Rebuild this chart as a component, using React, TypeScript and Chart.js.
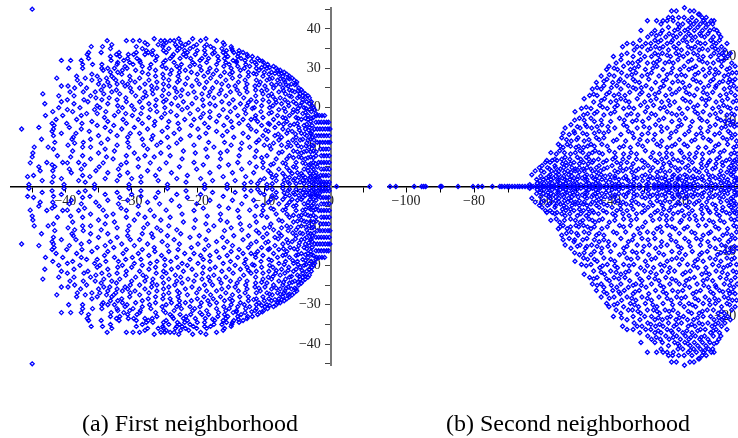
import React, { useEffect, useRef } from "react";
import { Chart, registerables } from "chart.js";

Chart.register(...registerables);

// Values are read off the picture, one row per y: [y, x, x, ...].
// The reference is mirror-symmetric about the real axis (conjugate pairs), so only the upper half is listed.
const firstUpper: number[][] = [
  [45, -45],
  [37.5, -26.6, -22.9, -20.8, -18.8],
  [37, -33.7, -30.8, -29.8, -28.8, -25.6, -25, -24.2, -23.6, -19.6, -17.2],
  [36.5, -28, -24.8, -22.6, -21.4, -16.2],
  [36, -33, -27.6, -26, -25.2, -23.4, -21.9, -20.2, -18.7, -16],
  [35.5, -36.1, -34.4, -29.3, -25.3, -23.2, -22.4, -20.7, -19, -18.1, -15],
  [35, -33.2, -28.4, -24.4, -22.8, -21.2, -17.6, -16.4, -14.9],
  [34.5, -27.8, -26.8, -25.2, -23.1, -22, -20.1, -19, -15.7, -14.8, -13.8],
  [34, -36.5, -34.6, -31.9, -29.3, -27.5, -24.8, -21.6, -17.5, -16.2, -14.6, -13.2],
  [33.5, -36.7, -32.3, -30.5, -29.7, -28, -26.9, -23.7, -22.2, -20.4, -18.9, -15.8, -12.6],
  [33, -33.2, -31.8, -26.2, -23.9, -21.8, -17, -15.5, -14, -12.5, -11.8],
  [32.5, -36.5, -30.6, -29.2, -24.2, -22.7, -21.1, -19.4, -18.4, -16, -13.5, -11],
  [32, -40.6, -39.2, -37.6, -33.1, -31.2, -28.8, -26.4, -24.9, -19.7, -16.9, -14.7, -12.9, -10.7],
  [31.5, -32.1, -30.3, -28.7, -25.2, -23.6, -20.8, -18.7, -15.8, -14.2, -11.4, -10.1],
  [31, -37.4, -35.9, -34.5, -32.2, -29.8, -27.1, -22.5, -20.5, -17.2, -15.3, -12.8, -11.2, -9.5],
  [30.5, -31, -28.4, -25.4, -23.2, -21.2, -19.7, -16.1, -14, -12.2, -9.9, -8.6],
  [30, -39.5, -37.4, -34.5, -33.6, -32.6, -30.7, -27.3, -24.8, -22.8, -18.2, -15, -13, -11.2, -9.6, -8.2],
  [29.5, -34.3, -31.4, -29.4, -26.4, -24, -21.9, -19.5, -17.2, -13.6, -10.8, -8, -7.6],
  [29, -33.2, -32.1, -28.4, -22.8, -21, -18.5, -16, -14.8, -12.4, -10, -8.9, -7],
  [28.5, -36, -31.5, -27.5, -25.3, -24.2, -20.1, -17.7, -15.2, -11.2, -9.3, -7.8, -6.6],
  [28, -38.3, -35.2, -33, -30.3, -26.4, -23, -19.1, -16.6, -13.7, -12.4, -10.2, -7.2, -6.2],
  [27.5, -41.3, -37, -33.8, -32.7, -28.8, -25.2, -21.6, -18.1, -14.8, -8.8, -6.4, -5.8],
  [27, -38.2, -36, -34.8, -32.4, -30.2, -27.4, -24.4, -22.8, -20.2, -15.8, -12.9, -11.2, -9.6, -8, -7, -5.5],
  [26.5, -33.6, -31.4, -29.5, -26.2, -23.1, -18.7, -17.2, -13.9, -10.6, -6.9, -5.1],
  [26, -37.7, -35, -32.2, -30.6, -28, -25.2, -21.9, -19.8, -16.4, -12.6, -8.9, -7.6, -5.9, -5.2],
  [25.5, -40.6, -39.6, -34.2, -33.3, -31, -27, -24.4, -20.9, -15.4, -14.4, -11.4, -9.9, -6.4],
  [25, -38.6, -36.8, -30.2, -28.8, -26.2, -23.5, -19, -17.8, -12.8, -8.6, -7.2, -4.8],
  [24.5, -34.6, -32.3, -26.9, -25.2, -22.4, -16.5, -14.1, -11.3, -9.6, -6.2, -4.4],
  [24, -39.3, -37.3, -35.5, -33, -30, -28, -23.2, -20.6, -18.2, -15.1, -12.6, -7.8, -5.4, -4.2],
  [23.5, -43.4, -34.2, -31.8, -26.8, -24.4, -21.5, -19.4, -16.8, -13.7, -10.2, -8.9, -6.8, -4.6, -3.8],
  [23, -41, -38.7, -36.2, -29.4, -27.8, -25.4, -22.6, -18.4, -15.8, -11.3, -9.4, -6.2, -4.2, -3.4],
  [22.5, -35.4, -33.4, -30.9, -28.3, -23.4, -20.3, -17.6, -13.1, -7.6, -5, -3.2],
  [22, -39.7, -37.2, -34.5, -32.2, -26.3, -24.8, -19.3, -14.7, -12, -10.2, -8.3, -6.9, -4.2],
  [21.5, -40.6, -36.6, -30.8, -28.8, -25.2, -22.2, -16.4, -11.2, -9.3, -5.6, -3.6, -2.9],
  [21, -43.1, -38.7, -33.6, -27.4, -24, -20.9, -18.2, -15.3, -13.6, -7.4, -5.2, -3.2],
  [20.5, -35.2, -32.1, -30, -26.4, -23, -19.2, -17.4, -12.6, -10.4, -8.7, -6.3, -4.6, -2.8],
  [20, -41, -37.8, -34.8, -31.4, -28.4, -25, -21.6, -14.4, -11.5, -9.2, -4, -2.6],
  [19.5, -39.7, -35.6, -29.6, -27.2, -22.4, -20, -16.2, -13, -7.8, -5.6, -3.2, -2.4],
  [19, -41.9, -38.9, -33.9, -32, -26.2, -24.1, -18.2, -15.1, -10.5, -6.8, -5, -2.9],
  [18.5, -36.8, -35.2, -30.9, -28.6, -25, -21.2, -19.2, -12.8, -9.3, -4.2, -2.2],
  [18, -43, -40.4, -37.6, -32.6, -29.9, -23.2, -16.8, -14, -11.3, -8, -6.2, -3.4, -2.1, -1.7, -1.3, -0.9],
  [17.5, -34.1, -27.4, -25.5, -19.6, -18.2, -15.6, -10.2, -7.2, -5.2, -2.6],
  [17, -41.4, -38.3, -31.3, -29, -22, -20.6, -13.2, -12, -8.6, -4.4, -3.4],
  [16.5, -36, -33.6, -26.5, -24.4, -17.2, -15, -11, -6.6, -3],
  [16.3, -2.2, -1.8, -1.4, -1, -0.6, -0.3],
  [16, -42, -39.8, -37.5, -30.8, -28.4, -23, -19, -13.8, -9.4, -7.8, -5],
  [15.5, -41.7, -35.2, -32.7, -26.6, -21, -16.1, -12.4, -10.4, -6.1, -4, -2.8],
  [15, -44, -39.4, -34, -29.6, -24.6, -18.4, -14.8, -8.4, -4.8, -3.2],
  [14.6, -46.6, -41.8, -37.6, -31.5, -27.6, -22.8, -20, -12, -7.2, -3.8, -2.4, -2, -1.6, -1.2, -0.8, -0.4, -0.1],
  [14, -42, -36.4, -33.2, -25.4, -17.2, -15.6, -11.2, -9.4, -5.8, -2.8],
  [13.5, -40.6, -38.4, -30.2, -28.8, -23.6, -18.8, -13.2, -6.6, -4.4, -3],
  [12.9, -41.8, -35, -32.2, -26.8, -21.2, -16.3, -10.2, -8.4, -3.6, -2.2, -1.8, -1.4, -1, -0.6, -0.2],
  [12.5, -38.8, -30.6, -24.6, -19.8, -14.6, -12.4, -7.4, -5.2, -2.8],
  [12, -43.6, -39, -36.2, -33.6, -28.4, -27, -22.6, -9.6, -4.2, -3],
  [11.2, -41.6, -37.3, -30.6, -25.6, -18.4, -16, -11.2, -6.4, -2, -1.6, -1.2, -0.8, -0.4, -0.1],
  [11, -38.6, -34.6, -23.2, -13.4, -8.6, -5.2, -3.6],
  [10.5, -39.6, -32.2, -28.2, -26.2, -20.6, -15, -10, -7.4, -2.8],
  [10, -44.7, -42.6, -37.4, -36.2, -30.4, -24.4, -17.6, -12.2, -6.6, -4.4, -3.2],
  [9.5, -41.8, -34, -27.6, -18.8, -13.6, -9, -1.5, -1.1, -0.7, -0.3],
  [9, -38.9, -32.6, -22.2, -15.6, -11.2, -5.6, -3.6, -2.6],
  [8.5, -44.9, -35, -29.6, -25.6, -20.4, -16.6, -7.8, -4.4],
  [7.8, -41.2, -37.4, -30.8, -28, -24.2, -13.8, -9.6, -6.2, -2.2, -1.4, -1, -0.6, -0.2],
  [7.5, -45, -39.2, -33.8, -26.6, -18.6, -11.4, -4.8, -3],
  [7, -36.2, -32.8, -29, -22.4, -16.6, -8.2, -6.6, -3.8],
  [6.1, -42.8, -40.4, -38, -30.8, -20.6, -14, -10.2, -5.2, -2.6, -1.8, -1.4, -1, -0.6, -0.2],
  [6, -45.3, -39.7, -34.3, -27.2, -24.8, -12.2, -7.2, -4.2],
  [5.5, -42, -37.1, -31.6, -19.2, -15.4, -9, -3.2],
  [5, -44, -41.6, -34.9, -29, -22.8, -16.8, -11.2, -5.6, -2],
  [4.4, -39.4, -37.6, -32, -25.8, -20.2, -13.4, -7.8, -4, -2.6, -1.4, -1, -0.6, -0.2],
  [4, -43.8, -41.9, -35.4, -27.6, -9.4, -6.2, -3.4],
  [3.5, -39.1, -33.6, -30.6, -24, -18.2, -14.8, -11.6, -5, -2.2],
  [2.8, -44.8, -37.4, -31.8, -26.4, -21.6, -8.2, -4.2, -1.5, -1.1, -0.7, -0.3],
  [2.5, -45.7, -41.8, -36.3, -28.6, -16.2, -12.8, -6.8, -3, -1.9],
  [2, -40.6, -34, -30, -23.2, -19.6, -10, -5.4, -2.4],
  [1.5, -43.5, -38, -32.2, -26, -17.8, -14.4, -8.2, -3.6],
  [1.1, -42, -37, -28.6, -21.8, -12, -6.4, -4.6, -2.8, -1.8, -1.4, -1, -0.6, -0.2],
  [0.5, -45.5, -40.2, -35.6, -30.4, -24.6, -19, -15.6, -9.6, -7.2, -3.2, -2.2, -1.2, -0.3],
  [0, 0.9, 5.9],
];

const firstEdgeExtra: number[][] = [
  [33.7, -17.8, -13.9], [31.8, -14.2, -11.9, -10.3], [30.2, -10.4, -9.2], [28.7, -11.6, -8.4, -7.4],
  [27.3, -9.2, -7.6, -6.2], [25.8, -10.8, -8.2, -6.7, -5.4], [24.3, -10.4, -7.1, -5.8, -4.9], [22.8, -8.7, -5.9, -4.7, -3.8],
  [21.3, -12.4, -8.2, -6.4, -4.3], [19.8, -11.8, -7, -4.9, -3.7], [18.8, -8.9, -5.7, -3.8], [17.3, -11.4, -6.8, -4.9, -3.8, -2.9],
  [15.8, -9.2, -7.1, -5.5, -3.6], [14.3, -9.8, -6.4, -4.7, -3.3], [13.3, -7.9, -5.3, -3.9, -2.9], [11.8, -10.8, -7.8, -5.7, -4.6, -3.4, -2.5],
  [10.3, -9.2, -6, -4.9, -3.7, -2.6], [8.8, -7.3, -5, -4, -3, -2.2], [7.3, -10.4, -5.6, -4.4, -3.4, -2.6], [5.8, -8.6, -6.8, -3.8, -3, -2.3],
  [4.8, -10.2, -6.6, -5.2, -3.4, -2.8], [3.3, -9, -7.2, -5.8, -4.4, -3.1, -2.6], [2.3, -8.8, -6.2, -4.8, -3.8, -3, -2.1], [1.6, -10.6, -7, -5.6, -4.2, -3.2, -2.4, -1.6],
  [0.7, -13, -11, -8.8, -6.2, -5.2, -4, -2.6, -1.6, -0.8],
];

const secondUpper: number[][] = [
  [27.5, -18.1],
  [27, -21.9, -20.5, -16.5, -15.3],
  [26.5, -14, -13.7],
  [26, -22.8, -21.6, -19.8, -18.2, -15.9, -12.9, -11.7],
  [25.5, -29, -26.3, -24.4, -23.2, -21.4, -17, -14.6, -12.5, -10.2, -9.4],
  [25, -25, -20, -18.6, -15.4, -13.4, -11, -9.8],
  [24.5, -22.8, -19.6, -16.4, -14.2, -11.8],
  [24, -30.9, -26.8, -24.6, -21, -18, -15.2, -12.8, -10.6, -8.6],
  [23.5, -27.8, -25.2, -22.6, -19.3, -16.8, -13.6, -11.2, -8],
  [23, -28.9, -23.6, -20.4, -17.8, -14.9, -12.2, -9.6, -7.4],
  [22.5, -31.2, -26.8, -25, -21.6, -18.6, -15.9, -10.4, -7.8],
  [22, -35, -33.2, -29.5, -28, -23.2, -19.8, -13.4, -12, -8.8, -5.6],
  [21.5, -36.3, -32, -30.6, -26.6, -24.4, -21.2, -17, -15, -10, -7.2],
  [21, -32.9, -28.9, -22.8, -19, -13.8, -11.2, -8.2, -6.2],
  [20.5, -35, -31.2, -26.8, -24.6, -20.6, -17.2, -15.4, -9.4, -7, -4.6],
  [20, -39, -33.2, -29.8, -27.8, -22.2, -18.4, -12.6, -10.4, -5.4],
  [19.5, -36.8, -31, -25.4, -20, -16, -13.8, -8.2, -6.4],
  [19, -38.2, -34.6, -33.4, -29, -27.2, -23.8, -21.4, -11.4, -9.6, -4.2],
  [18.5, -40.3, -36, -31.6, -26.2, -18.2, -14.8, -7.2, -3.2],
  [18, -41, -37.8, -34, -29.6, -24.4, -19.4, -16.8, -12.6, -9, -5.6],
  [17.5, -36.6, -32.4, -27.8, -22, -14, -10.8, -8, -4, -2.8],
  [17, -42.6, -38.8, -35, -30.6, -25.6, -20.4, -17.8, -12, -6.4],
  [16.5, -40.9, -37, -33.2, -28.6, -23.4, -15.6, -9.6, -4.8, -3.2],
  [16, -44, -39.2, -35.8, -31.4, -26.6, -21.6, -18.6, -13.4, -7.8, -5.2],
  [15.5, -41.8, -38, -34.6, -29.4, -24.2, -16.6, -11, -8.8, -3.6],
  [15, -45.2, -42.6, -36.8, -32.4, -27.8, -22.4, -19.6, -14.4, -6.4, -2.6],
  [14.5, -40.2, -34.2, -30.6, -25.6, -20.6, -17.6, -12.6, -9.8, -4.4],
  [14, -46, -43.8, -38.8, -35.6, -28.6, -23.6, -15.2, -7.6, -3.2],
  [13.5, -47.6, -41.6, -36.8, -32, -26.4, -18.6, -13, -10.8, -5.4],
  [13, -44.8, -39.8, -34.4, -29.8, -24.8, -21, -16.4, -8.8, -3.8],
  [12.5, -43, -37.8, -31, -27.2, -22.4, -14.2, -11.8, -6.6],
  [12, -48.4, -45.6, -40.8, -36, -33, -25.2, -19.6, -17.2, -9.8, -4.6, -2.8],
  [11.5, -50.3, -43.8, -38.6, -29.6, -23.2, -15, -12.6, -7.4],
  [11, -47.8, -41.8, -35, -31.8, -26.6, -20.4, -10.6, -5.6, -3.4],
  [10.5, -49, -45.6, -37.2, -28.6, -24.2, -17.8, -13.6, -8.4],
  [10, -44.6, -39.8, -33.4, -30.4, -21.8, -15.8, -11.4, -6.2, -3.8],
  [9.5, -51.5, -47.2, -42.4, -36, -26.6, -19, -9, -4.6, -2.6],
  [9, -53.2, -48.8, -45.4, -38.6, -32, -28.4, -23.2, -13.4, -7.2],
  [8.5, -50.6, -43.2, -40.4, -34.6, -24.8, -20.6, -16.8, -11.2, -5.2],
  [8, -52, -46.8, -36.8, -30.6, -26.8, -18, -14.6, -9.2, -3.2],
  [7.5, -54.2, -49.4, -44, -41.8, -33, -22.4, -12.6, -6.8, -4.2],
  [7, -51.4, -47.6, -39, -35.4, -29, -24.8, -16, -10.4, -2.8],
  [6.5, -55.2, -52.6, -45.6, -42.4, -31.8, -26.2, -20.8, -18.2, -8, -5.4],
  [6, -53.8, -50, -47.8, -37.2, -34, -23.2, -14, -11.8, -3.6],
  [5.5, -54.8, -48.8, -44.4, -40.2, -29.6, -19.4, -9.6, -6.4],
  [5, -55.8, -51.6, -46.2, -42.2, -36, -32.2, -25.4, -21.8, -16.6, -12.8, -4.4, -2.6],
  [4.5, -53.2, -49.6, -47, -38.4, -34.4, -28, -23.4, -18.2, -15, -7.8],
  [4, -58.6, -57, -55.6, -44.8, -41, -30.6, -26.8, -20, -10.6, -5.8, -3.4],
  [3.5, -54, -51.6, -49, -46.4, -36.8, -33.2, -24.2, -13.2, -8.8, -2.4],
  [3.2, -60, -56.2, -52.8, -43.2, -39.4, -28.8, -22, -17, -11.6, -6.8, -4.4],
  [2.7, -57.8, -54.6, -50.2, -47.8, -45.6, -41.8, -35.2, -31.6, -19.4, -15.2, -9.8, -2.9],
  [2.2, -59.4, -56, -53.4, -51.4, -49, -44, -37.6, -33.6, -26.2, -23.8, -13.8, -5.6, -3.6],
  [1.8, -63, -57.6, -55, -52.2, -46.8, -42.6, -40, -29.6, -21.2, -18, -11, -7.8, -4.4],
  [1.3, -58.8, -56.6, -54, -50.6, -48.2, -45, -38.6, -36, -32, -27.4, -24.8, -20, -16.2, -14.2, -9, -2.8],
  [0.9, -60.6, -58.2, -55.4, -52.8, -51, -47.2, -43.6, -41.2, -34.6, -30.4, -22.6, -18.8, -12.4, -6.4, -3.4],
  [0.5, -61.4, -59.4, -57, -54.6, -53, -49.8, -46.2, -44.2, -39.4, -37.4, -33, -28.6, -25.6, -23.4, -20.8, -17.4, -15.4, -10.2, -7.4, -5, -2.6],
  [0, -104.7, -103, -97.6, -95.4, -94.8, -94.2, -89.9, -89.5, -84.7, -80.3, -78.8, -77.6, -74.6, -72.4, -71.8, -71, -70.2, -69.6, -68.8, -68, -67.2, -66.6, -65.8, -65, -64.2, -63.4, -62.6, -61.8, -61, -60.2, -59.4, -58.6, -57.8, -57, -56.2, -55, -53.8, -52.6, -51.4, -50.2, -49, -47.8, -46.6, -45.4, -44.2, -43, -41.8, -40.6, -39.4, -38.2, -37, -35, -33, -31, -29, -27, -25.8, -24.6, -23.4, -22.2, -21, -19.8, -18.6, -17.4, -16, -13, -11, -8.5, -5],
];

const secondExtra: number[][] = [
  [25.2, -16.4, -12.1], [24.2, -20, -17.1, -9.4], [23.2, -26.4, -21.4, -16.2, -13.2], [22.2, -25.8, -22, -17.4, -14.2, -9.6],
  [21.2, -28, -25.4, -20.4, -16, -12.8, -9], [20.2, -36.6, -25.8, -23.2, -19.6, -14.2, -8, -6.6], [19.2, -31.8, -26.2, -22.6, -17, -12.8, -7.2], [18.2, -38.8, -32.8, -27.4, -21.6, -15.8, -10.6, -4.8],
  [17.2, -40.2, -33.6, -29, -23.2, -19, -15, -9.2, -5.2], [16.2, -41.8, -37.4, -32.6, -24.4, -20, -14.6, -10.4, -6.8, -3.9], [15.2, -43.8, -39.6, -33.2, -30.8, -25.2, -18, -12.4, -9, -4.8], [14.2, -44.8, -41, -37.4, -31.2, -26.8, -21.8, -16.6, -11.4, -5.8],
  [13.2, -42.6, -38.2, -35.4, -28, -22.8, -17.8, -11.8, -7, -2.8], [12.2, -47, -42.2, -38.6, -34.4, -29, -24, -15.4, -8, -5.4], [11.2, -46.6, -44.6, -39.8, -33.8, -27.8, -21.8, -18.8, -14.2, -9, -4.2], [10.2, -50.4, -47.6, -42.6, -35.8, -32.2, -25.6, -19.6, -13, -7.4, -5],
  [9.2, -49.6, -46.8, -43.8, -40.6, -35, -30, -25, -20, -16.4, -10.6, -6, -3.4], [8.2, -53.8, -50.4, -48, -44.6, -41.8, -33.4, -28.8, -22, -13.2, -7.8, -4.6], [7.2, -52.8, -49.8, -46.2, -43.2, -38, -31.2, -27.2, -19.6, -15, -11, -5.6], [6.2, -54.6, -51.6, -49.2, -46.6, -44.6, -40.8, -36, -30.4, -25.2, -21.8, -17.2, -9, -2.8],
  [5.2, -57.4, -53.4, -50.2, -48, -45.2, -43.2, -38.6, -33.8, -27.4, -23.4, -19, -14.6, -10.8, -7.6, -3.4], [4.2, -56.2, -54.2, -51.8, -48.6, -46.2, -43.4, -39.2, -36.2, -32.2, -24.8, -21.4, -16.8, -12.8, -8.6, -4.8, -2.8], [3.7, -59, -57.6, -53, -50.6, -47.8, -45.2, -42, -38, -35, -29.8, -26, -22.6, -18.8, -15.8, -11, -7, -3.8], [2.9, -60.8, -58.4, -56, -53.6, -51.2, -49, -46.8, -44, -40.8, -37, -33.8, -30.2, -27.4, -24.6, -20.8, -17.8, -13, -9, -5, -3.4],
  [2.4, -62, -60.2, -57.2, -55, -52.4, -50.2, -47.6, -45.2, -42.8, -38.6, -36.2, -32.4, -28.2, -25.2, -22.4, -20, -16.6, -14.6, -11.6, -7.4, -4.4], [1.6, -60.4, -58, -56, -53.6, -51.2, -49.4, -47.4, -45.4, -43.8, -41.4, -38.6, -35.4, -33, -30.6, -28.2, -26, -23.6, -21.6, -19.4, -17.4, -15.6, -12.8, -9.8, -6.6, -3.8],
  [1.1, -61.6, -59.6, -57.4, -55.2, -53.2, -51.8, -49.6, -46.8, -44.4, -42.4, -40, -37.4, -35, -33, -28.8, -26.2, -23.8, -21.8, -20, -17.6, -15, -13, -10.8, -7.8, -5.4, -2.6],
  [0.3, -63.6, -60.4, -58, -55.8, -53.8, -51.6, -50.4, -48.6, -47, -45.2, -43, -41, -38.4, -36.2, -34, -31.4, -29.2, -27, -24.6, -22.4, -20.2, -18.4, -16.4, -14.2, -11.6, -9, -6.2, -3.8],
];

const firstTicks = [-40, -30, -20, -10, 0];
const secondTicks = [-100, -80, -60, -40, -20];
const firstYTicks = [40, 30, 20, 10, -10, -20, -30, -40];
const secondYTicks = [20, 10, -10, -20];
const captions = ["(a) First neighborhood", "(b) Second neighborhood"];

const FONT = "'Liberation Serif', serif";
const label = (v: number) => (v < 0 ? "\u2212" + Math.abs(v) : String(v));
// Chart.js anchors y labels of a value-positioned axis on the axis itself, so trailing spaces clear the ticks.
const yLabel = (v: number) => label(v) + "\u2002\u2009";

const toPoints = (rows: number[][]) =>
  rows.flatMap(([y, ...xs]) =>
    xs.flatMap((x) => (y === 0 ? [{ x, y }] : [{ x, y }, { x, y: -y }]))
  );

type PanelProps = {
  rows: number[][];
  xRange: [number, number];
  yRange: [number, number];
  xStep: number;
  yStep: number;
  xLabels: number[];
  yLabels: number[];
  width: number;
  padding: { left: number; right: number; top: number; bottom: number };
  left: number;
};

function Panel(p: PanelProps) {
  const ref = useRef<HTMLCanvasElement>(null);
  useEffect(() => {
    if (!ref.current) return;
    const chart = new Chart(ref.current, {
      type: "scatter",
      data: {
        datasets: [
          {
            data: toPoints(p.rows),
            pointStyle: "rectRot",
            pointRadius: 2,
            pointBorderWidth: 1.3,
            pointBorderColor: "#0000ff",
            pointBackgroundColor: "rgba(0,0,0,0)",
            clip: false,
          },
        ],
      },
      options: {
        animation: false,
        responsive: false,
        layout: { padding: p.padding },
        plugins: { legend: { display: false }, tooltip: { enabled: false } },
        scales: {
          x: {
            type: "linear",
            position: { y: 0 },
            min: p.xRange[0],
            max: p.xRange[1],
            z: 1,
            grid: { display: true, drawTicks: true, tickLength: 5, tickColor: "#000", drawOnChartArea: false },
            border: { display: true, color: "#000", width: 1.5 },
            ticks: {
              stepSize: p.xStep,
              includeBounds: false,
              autoSkip: false,
              maxRotation: 0,
              padding: 1,
              color: "#222",
              font: { family: FONT, size: 14 },
              callback: (v: any) => (p.xLabels.includes(Number(v)) ? label(Number(v)) : ""),
            },
          },
          y: {
            type: "linear",
            position: { x: 0 },
            min: p.yRange[0],
            max: p.yRange[1],
            z: 1,
            grid: { display: true, drawTicks: true, tickLength: 5, tickColor: "#444", drawOnChartArea: false },
            border: { display: true, color: "#777", width: 2 },
            ticks: {
              stepSize: p.yStep,
              includeBounds: false,
              autoSkip: false,
              padding: 5,
              color: "#222",
              font: { family: FONT, size: 14 },
              callback: (v: any) => (p.yLabels.includes(Number(v)) ? yLabel(Number(v)) : ""),
            },
          },
        },
      } as any,
    });
    return () => chart.destroy();
  }, []);
  return (
    <canvas
      ref={ref}
      width={p.width}
      height={478}
      style={{ position: "absolute", left: p.left, top: -20, width: p.width, height: 478 }}
    />
  );
}

const captionStyle: React.CSSProperties = {
  position: "absolute",
  top: 410,
  font: "24px 'Liberation Serif', serif",
  color: "#000",
  whiteSpace: "nowrap",
};

export default function App() {
  return (
    <div style={{ position: "fixed", left: 0, top: 0, width: 738, height: 438, overflow: "hidden", background: "#fff" }}>
      <Panel
        rows={[...firstUpper, ...firstEdgeExtra]}
        xRange={[-48.2, 5.9]}
        yRange={[-45.3, 45.3]}
        xStep={5}
        yStep={5}
        xLabels={firstTicks}
        yLabels={firstYTicks}
        width={375}
        left={0}
        padding={{ left: 11, right: 5, top: 28, bottom: 93 }}
      />
      <Panel
        rows={[...secondUpper, ...secondExtra]}
        xRange={[-105.3, 0]}
        yRange={[-27.46, 27.46]}
        xStep={10}
        yStep={5}
        xLabels={secondTicks}
        yLabels={secondYTicks}
        width={400}
        left={375}
        padding={{ left: 13, right: 29, top: 28, bottom: 93 }}
      />
      <div style={{ ...captionStyle, left: 82 }}>{captions[0]}</div>
      <div style={{ ...captionStyle, left: 446 }}>{captions[1]}</div>
    </div>
  );
}
